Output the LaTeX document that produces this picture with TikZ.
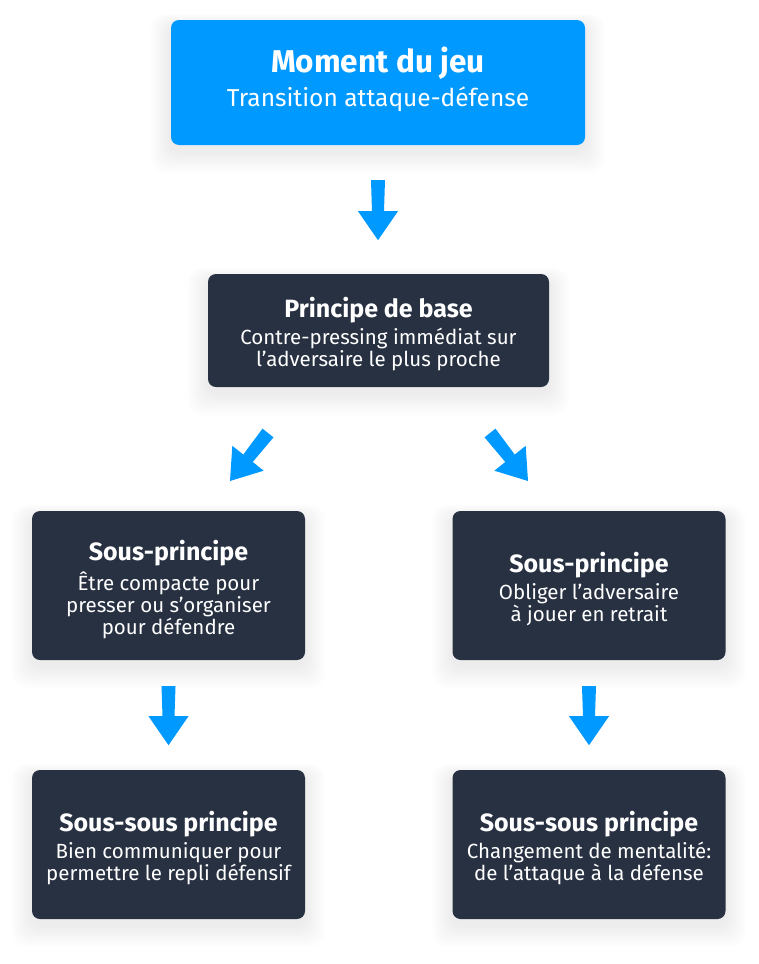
\documentclass[tikz,border=0pt]{standalone}
\usepackage{fontspec}
\setmainfont{Fira Sans}
\usetikzlibrary{calc}
\definecolor{mblue}{HTML}{0099FF}
\definecolor{mdark}{HTML}{283142}
\definecolor{shade}{HTML}{1A2440}
\pgfdeclarelayer{bg}
\pgfsetlayers{bg,main}
\tikzset{
  boxbase/.style={rounded corners=8pt, inner sep=0pt},
  topbox/.style={boxbase, fill=mblue, minimum width=414pt, minimum height=125pt},
  darkbox/.style={boxbase, fill=mdark},
  midbox/.style={darkbox, minimum width=341pt, minimum height=113pt},
  subbox/.style={darkbox, minimum width=273pt, minimum height=149pt},
  txt/.style={inner sep=0pt, align=center, text=white, font=\fontsize{20.5}{22}\selectfont},
  halo/.style={fill=shade, opacity=0.008, rounded corners=14pt},
}
\newcommand\ttl[1]{{\fontsize{25}{25}\selectfont\bfseries #1}\\[5pt]}
\newcommand\barrow[2]{%
  \path ($(#2)!29pt!(#1)$) coordinate (hb);
  \fill[mblue] ($(#1)!7pt!90:(#2)$) -- ($(hb)!6pt!-90:(#1)$) -- ($(hb)!20pt!-90:(#1)$) -- (#2)
     -- ($(hb)!20pt!90:(#1)$) -- ($(hb)!6pt!90:(#1)$) -- ($(#1)!7pt!-90:(#2)$) -- cycle;
}
\begin{document}
\begin{tikzpicture}[x=1pt,y=-1pt]
\useasboundingbox (0,0) rectangle (758,964);
\node[topbox] (top) at (378,82.5) {};
\node[midbox] (p) at (378.5,330.5) {};
\node[subbox] (sl) at (168.5,585.5) {};
\node[subbox] (sr) at (589,585.5) {};
\node[subbox] (bl) at (168.5,844.5) {};
\node[subbox] (br) at (589,844.5) {};
\node[txt] (topt) at ($(top)+(0,-3)$) {{\fontsize{31.5}{30}\selectfont\bfseries Moment du jeu}\\[7pt]{\fontsize{24.5}{24}\selectfont Transition attaque-défense}};
\node[txt] (pt) at ($(p)+(0,4)$) {\ttl{Principe de base}Contre-pressing immédiat sur\\l'adversaire le plus proche};
\node[txt] (slt) at ($(sl)+(0,4)$) {\ttl{Sous-principe}Être compacte pour\\presser ou s'organiser\\pour défendre};
\node[txt] (srt) at ($(sr)+(0,4)$) {\ttl{Sous-principe}Obliger l’adversaire\\à jouer en retrait};
\node[txt] (blt) at ($(bl)+(0,4)$) {\ttl{Sous-sous principe}Bien communiquer pour\\permettre le repli défensif};
\node[txt] (brt) at ($(br)+(0,4)$) {\ttl{Sous-sous principe}Changement de mentalité:\\de l’attaque à la défense};
\begin{pgfonlayer}{bg}
\fill[white] (0,0) rectangle (758,964);
\foreach \n in {top,p,sl,sr,bl,br}{
  \foreach \i in {1,...,9}{
    \fill[halo] ($(\n.north west)+(-\i*2.2,-\i*1.2+5)$) rectangle ($(\n.south east)+(\i*2.2,\i*2.4+6)$);
  }
}
\end{pgfonlayer}
\coordinate (a1s) at ($(top.south)+(0,35)$);
\coordinate (a1t) at ($(top.south)+(0,95)$);
\coordinate (a2s) at (268,433);
\coordinate (a2t) at (230,481);
\coordinate (a3s) at (490,433);
\coordinate (a3t) at (528,481);
\coordinate (a4s) at ($(sl.south)+(0,26)$);
\coordinate (a4t) at ($(sl.south)+(0,85)$);
\coordinate (a5s) at ($(sr.south)+(0,26)$);
\coordinate (a5t) at ($(sr.south)+(0,85)$);
\barrow{a1s}{a1t}
\barrow{a2s}{a2t}
\barrow{a3s}{a3t}
\barrow{a4s}{a4t}
\barrow{a5s}{a5t}
\end{tikzpicture}
\end{document}
